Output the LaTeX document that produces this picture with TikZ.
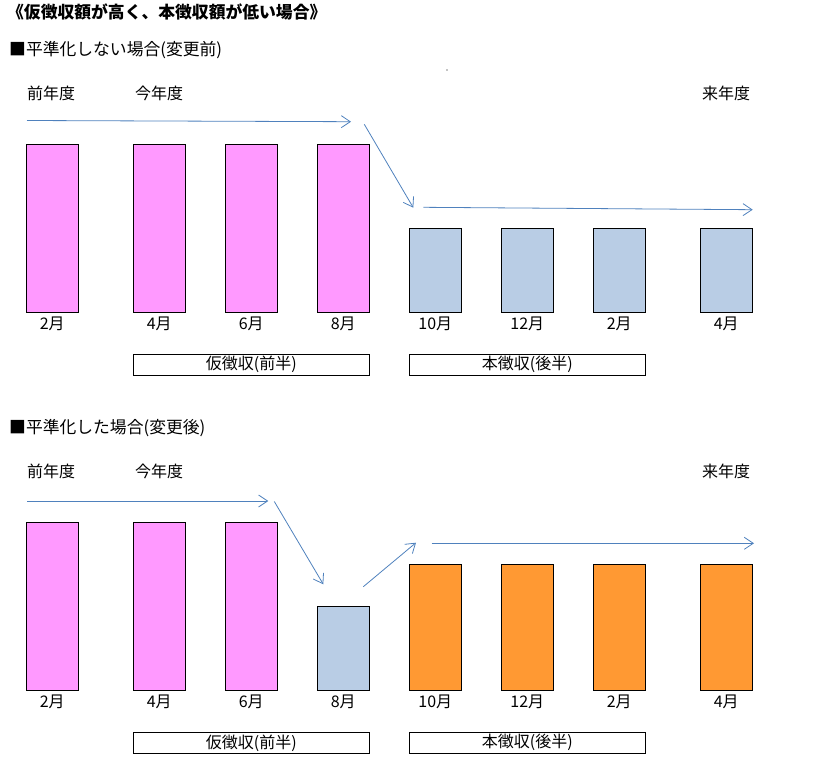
\documentclass[tikz,border=0pt]{standalone}
\usepackage{fontspec}
\setmainfont{Noto Sans CJK JP}
\usepackage{tikz}
\usetikzlibrary{arrows.meta,positioning}
\definecolor{KariPink}{HTML}{FF99FF}
\definecolor{HonBlue}{HTML}{B9CDE5}
\definecolor{HeiOrange}{HTML}{FF9933}
\definecolor{FlowBlue}{HTML}{4F81BD}

\begin{document}
\begin{tikzpicture}[x=1pt,y=-1pt,
  bar/.style={draw=black,line width=0.9pt},
  flow/.style={draw=FlowBlue,line width=0.8pt,
    -{Straight Barb[length=9pt,width=12pt,line width=0.8pt]}},
  txt/.style={font=\fontsize{16}{19}\selectfont,inner sep=0pt},
  head/.style={font=\fontsize{16.8}{20}\selectfont,inner sep=0pt,anchor=west},
  spanbox/.style={draw,line width=0.9pt,minimum width=236pt,
    minimum height=21pt,inner sep=0pt,font=\fontsize{16}{19}\selectfont}]
  \useasboundingbox (0,0) rectangle (825,777);
  % headings
  \node[head,font=\fontsize{16.8}{20}\selectfont\bfseries] (title) at (7,12)
    {《仮徴収額が高く、本徴収額が低い場合》};
  \node[head] (headA) at (9,50) {■平準化しない場合(変更前)};
  \node[head] (headB) at (9,428) {■平準化した場合(変更後)};
  \fill (447,70) circle (0.6pt);
  % year labels
  \foreach \yy/\p in {93/A,471/B} {
    \node[txt,anchor=west] (prev\p) at (27,\yy) {前年度};
    \node[txt,anchor=west] (this\p) at (135,\yy) {今年度};
    \node[txt,anchor=west] (next\p) at (702,\yy) {来年度};
  }
  % before: bars
  \foreach \x/\t/\c/\m [count=\i] in {26.3/144.3/KariPink/2月,133.3/144.3/KariPink/4月,
      225.3/144.3/KariPink/6月,317.3/144.3/KariPink/8月,409.3/228.3/HonBlue/10月,
      501.3/228.3/HonBlue/12月,593.3/228.3/HonBlue/2月,700.3/228.3/HonBlue/4月} {
    \draw[bar,fill=\c] (\x,\t) rectangle (\x+52,312.3);
    \node[txt] (monA\i) at (\x+26,323.5) {\m};
  }
  % after: bars
  \foreach \x/\t/\c/\m [count=\i] in {26.3/522.3/KariPink/2月,133.3/522.3/KariPink/4月,
      225.3/522.3/KariPink/6月,317.3/606.3/HonBlue/8月,409.3/564.3/HeiOrange/10月,
      501.3/564.3/HeiOrange/12月,593.3/564.3/HeiOrange/2月,700.3/564.3/HeiOrange/4月} {
    \draw[bar,fill=\c] (\x,\t) rectangle (\x+52,690.3);
    \node[txt] (monB\i) at (\x+26,701.5) {\m};
  }
  % period boxes
  \node[spanbox] (kariA) at (251.3,364.8) {仮徴収(前半)};
  \node[spanbox] (honA) at (527.3,364.8) {本徴収(後半)};
  \node[spanbox] (kariB) at (251.3,742.8) {仮徴収(前半)};
  \node[spanbox] (honB) at (527.3,742.8) {本徴収(後半)};
  % flow arrows, before
  \coordinate (a1s) at (27,120.5);    \coordinate (a1e) at (351,121.7);
  \coordinate (a2s) at (364.3,124.3); \coordinate (a2e) at (413.3,207.7);
  \coordinate (a3s) at (423.3,207.3); \coordinate (a3e) at (752.7,209.7);
  \draw[flow] (a1s) -- (a1e);
  \draw[flow] (a2s) -- (a2e);
  \draw[flow] (a3s) -- (a3e);
  % flow arrows, after
  \coordinate (b1s) at (27,501);      \coordinate (b1e) at (268.3,501);
  \coordinate (b2s) at (274.3,501.5); \coordinate (b2e) at (323.3,584.3);
  \coordinate (b3s) at (363.3,586.7); \coordinate (b3e) at (416,542.7);
  \coordinate (b4s) at (431.7,543.3); \coordinate (b4e) at (754,543.3);
  \draw[flow] (b1s) -- (b1e);
  \draw[flow] (b2s) -- (b2e);
  \draw[flow] (b3s) -- (b3e);
  \draw[flow] (b4s) -- (b4e);
\end{tikzpicture}
\end{document}
